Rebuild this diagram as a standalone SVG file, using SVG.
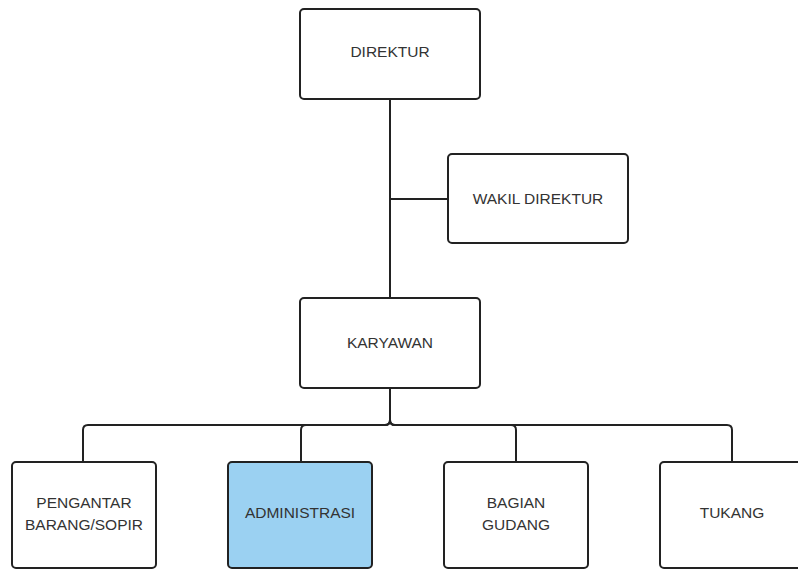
<svg xmlns="http://www.w3.org/2000/svg" width="798" height="570" viewBox="0 0 798 570">
<style>
.box{fill:#ffffff;stroke:#222222;stroke-width:2}
.hl{fill:#9BD1F2}
.t{font-family:"Liberation Sans",Arial,sans-serif;font-size:15.5px;fill:#333333;text-anchor:middle}
.c{fill:none;stroke:#222222;stroke-width:2}
</style>
<rect width="798" height="570" fill="#ffffff"/>
<g id="connectors">
<path class="c" d="M390,99 V298"/>
<path class="c" d="M390,199 H448"/>
<path class="c" d="M390,388 V420 Q390,425 385,425 H88 Q83,425 83,430 V462"/>
<path class="c" d="M390,388 V420 Q390,425 385,425 H306 Q301,425 301,430 V462"/>
<path class="c" d="M390,388 V420 Q390,425 395,425 H511 Q516,425 516,430 V462"/>
<path class="c" d="M390,388 V420 Q390,425 395,425 H727 Q732,425 732,430 V462"/>
</g>
<g id="direktur">
<rect class="box" x="300" y="9" width="180" height="90" rx="4"/>
<text class="t" x="390" y="57">DIREKTUR</text>
</g>
<g id="wakil-direktur">
<rect class="box" x="448" y="154" width="180" height="89" rx="4"/>
<text class="t" x="538" y="204">WAKIL DIREKTUR</text>
</g>
<g id="karyawan">
<rect class="box" x="300" y="298" width="180" height="90" rx="4"/>
<text class="t" x="390" y="348">KARYAWAN</text>
</g>
<g id="pengantar">
<rect class="box" x="12" y="462" width="144" height="106" rx="4"/>
<text class="t" x="84" y="508">PENGANTAR</text>
<text class="t" x="84" y="530">BARANG/SOPIR</text>
</g>
<g id="administrasi">
<rect class="box hl" x="228" y="462" width="144" height="106" rx="4"/>
<text class="t" x="300" y="518">ADMINISTRASI</text>
</g>
<g id="bagian-gudang">
<rect class="box" x="444" y="462" width="144" height="106" rx="4"/>
<text class="t" x="516" y="508">BAGIAN</text>
<text class="t" x="516" y="530">GUDANG</text>
</g>
<g id="tukang">
<rect class="box" x="660" y="462" width="144" height="106" rx="4"/>
<text class="t" x="732" y="518">TUKANG</text>
</g>
</svg>
